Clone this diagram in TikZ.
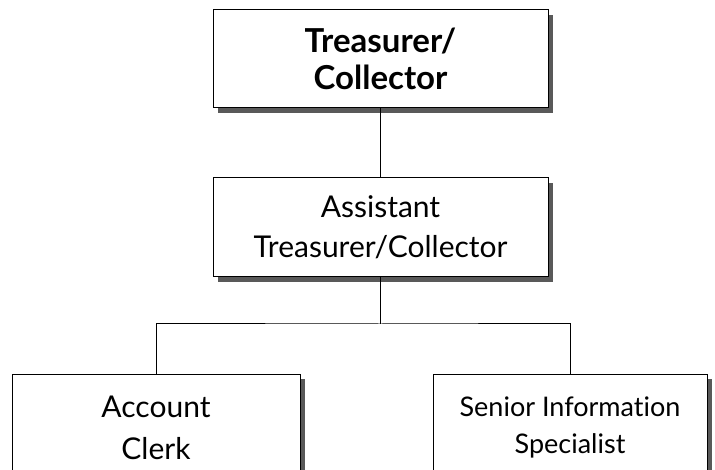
\documentclass[tikz,border=0pt]{standalone}
\usepackage{fontspec}
\setmainfont{Lato}[Ligatures={NoCommon}]
\usetikzlibrary{shadows}
\begin{document}
\begin{tikzpicture}[x=1pt,y=-1pt,
  orgbox/.style={draw=black,line width=1pt,fill=white,align=center,inner sep=0pt,
    drop shadow={shadow xshift=5pt,shadow yshift=-5pt,fill=black!65,opacity=1}},
  boxtext/.style={align=center,inner sep=0pt},
  link/.style={draw=black,line width=1pt}]
\useasboundingbox (0,0) rectangle (715,470);
\node[orgbox,minimum width=335pt,minimum height=98pt,font=\fontsize{33}{37}\selectfont\bfseries] (t) at (380.5,59) {Treasurer/\\Collector};
\node[orgbox,minimum width=335pt,minimum height=99pt,font=\fontsize{30}{40}\selectfont] (a) at (380.5,227.5) {Assistant\\Treasurer/Collector};
\node[orgbox,minimum width=288pt,minimum height=96pt] (c) at (156,422) {};
\node[boxtext,font=\fontsize{30}{42}\selectfont] (ct) at (156,428) {Account\\Clerk};
\node[orgbox,minimum width=274pt,minimum height=96pt] (s) at (570,422) {};
\node[boxtext,font=\fontsize{27}{37}\selectfont] (st) at (570,427) {Senior Information\\Specialist};
\coordinate (j) at (380.5,324);
\draw[link] (t.south) -- (a.north);
\draw[link] (a.south) -- (j);
\draw[link] (c.north) |- (j) -| (s.north);
\end{tikzpicture}
\end{document}
